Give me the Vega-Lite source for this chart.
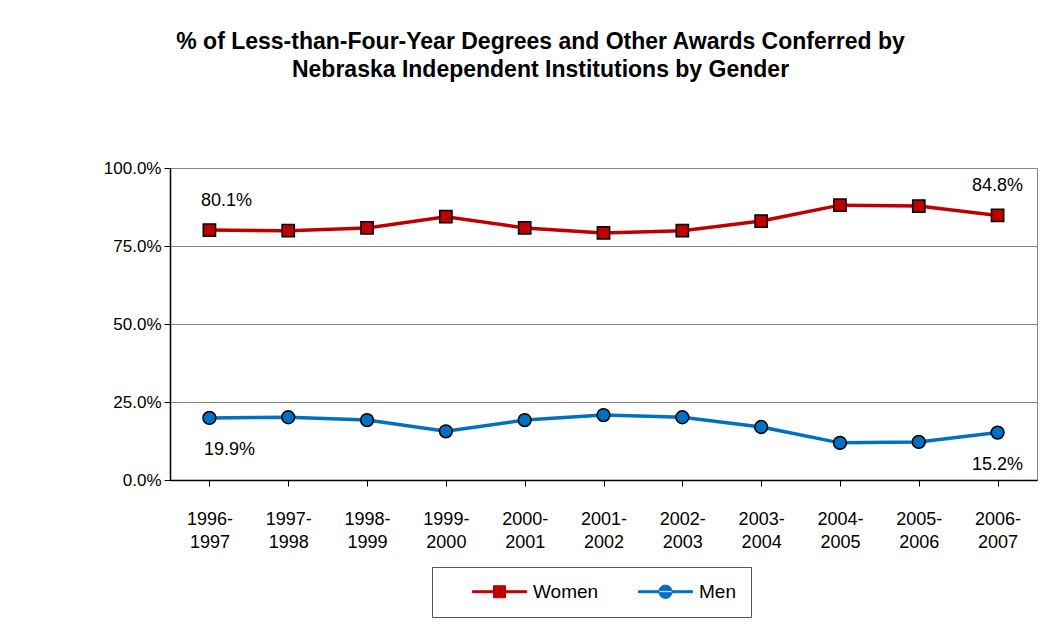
{
  "$schema": "https://vega.github.io/schema/vega-lite/v6.json",
  "width": 867,
  "height": 312,
  "autosize": {"type": "none"},
  "padding": {"left": 170, "top": 168, "right": 23, "bottom": 147},
  "background": "white",
  "config": {
    "font": "Liberation Sans",
    "view": {"stroke": "#868686", "strokeWidth": 1}
  },
  "title": {
    "text": ["% of Less-than-Four-Year Degrees and Other Awards Conferred by", "Nebraska Independent Institutions by Gender"],
    "font": "Liberation Sans",
    "fontWeight": "bold",
    "fontSize": 23,
    "lineHeight": 28,
    "anchor": "middle",
    "dx": -63,
    "offset": 77,
    "color": "black"
  },
  "data": {
    "values": [
      {"year": "1996-1997", "series": "Women", "value": 0.801},
      {"year": "1997-1998", "series": "Women", "value": 0.799},
      {"year": "1998-1999", "series": "Women", "value": 0.808},
      {"year": "1999-2000", "series": "Women", "value": 0.844},
      {"year": "2000-2001", "series": "Women", "value": 0.808},
      {"year": "2001-2002", "series": "Women", "value": 0.792},
      {"year": "2002-2003", "series": "Women", "value": 0.799},
      {"year": "2003-2004", "series": "Women", "value": 0.830},
      {"year": "2004-2005", "series": "Women", "value": 0.881},
      {"year": "2005-2006", "series": "Women", "value": 0.878},
      {"year": "2006-2007", "series": "Women", "value": 0.848},
      {"year": "1996-1997", "series": "Men", "value": 0.199},
      {"year": "1997-1998", "series": "Men", "value": 0.201},
      {"year": "1998-1999", "series": "Men", "value": 0.192},
      {"year": "1999-2000", "series": "Men", "value": 0.156},
      {"year": "2000-2001", "series": "Men", "value": 0.192},
      {"year": "2001-2002", "series": "Men", "value": 0.208},
      {"year": "2002-2003", "series": "Men", "value": 0.201},
      {"year": "2003-2004", "series": "Men", "value": 0.170},
      {"year": "2004-2005", "series": "Men", "value": 0.119},
      {"year": "2005-2006", "series": "Men", "value": 0.122},
      {"year": "2006-2007", "series": "Men", "value": 0.152}
    ]
  },
  "encoding": {
    "x": {
      "field": "year",
      "type": "nominal",
      "sort": null,
      "scale": {"paddingInner": 0, "paddingOuter": 0},
      "axis": {
        "title": null,
        "labelAngle": 0,
        "labelExpr": "[slice(datum.value, 0, 5), slice(datum.value, 5)]",
        "labelFont": "Liberation Sans",
        "labelFontSize": 18,
        "labelColor": "black",
        "labelLineHeight": 23,
        "labelPadding": 24,
        "bandPosition": 0,
        "tickSize": 6,
        "tickColor": "black",
        "domainColor": "black",
        "domainWidth": 1.5,
        "grid": false
      }
    },
    "y": {
      "field": "value",
      "type": "quantitative",
      "scale": {"domain": [0, 1], "nice": false},
      "axis": {
        "title": null,
        "values": [0, 0.25, 0.5, 0.75, 1],
        "format": ".1%",
        "labelFont": "Liberation Sans",
        "labelFontSize": 17,
        "labelColor": "black",
        "labelPadding": 3,
        "tickSize": 6,
        "tickColor": "black",
        "domainColor": "black",
        "domainWidth": 1.5,
        "grid": true,
        "gridColor": "#868686",
        "gridWidth": 1
      }
    }
  },
  "layer": [
    {
      "mark": {"type": "line", "strokeWidth": 3.5},
      "encoding": {
        "color": {
          "field": "series",
          "type": "nominal",
          "scale": {"domain": ["Women", "Men"], "range": ["#C00000", "#0070C0"]},
          "legend": {
            "title": null,
            "orient": "none",
            "legendX": 262,
            "legendY": 399,
            "direction": "horizontal",
            "padding": 15,
            "strokeColor": "#555555",
            "fillColor": "white",
            "symbolSize": 196,
            "symbolOffset": 43,
            "labelOffset": 24,
            "columnPadding": 14,
            "labelFont": "Liberation Sans",
            "labelFontSize": 19,
            "labelColor": "black",
            "labelExpr": "datum.label == 'Men' ? 'Men\u00a0\u00a0\u00a0\u00a0' : datum.label",
            "encode": {
              "symbols": {
                "update": {
                  "shape": {"signal": "datum.value == 'Women' ? 'M-3.86,-0.14 H3.86 V0.14 H-3.86 Z M-0.86,-0.86 H0.86 V0.86 H-0.86 Z' : 'M-3.86,-0.14 H3.86 V0.14 H-3.86 Z M-0.95,0 A0.95,0.95 0 1,0 0.95,0 A0.95,0.95 0 1,0 -0.95,0 Z'"},
                  "size": {"value": 196},
                  "fill": {"signal": "datum.value == 'Women' ? '#C00000' : '#0070C0'"},
                  "stroke": {"signal": "datum.value == 'Women' ? '#C00000' : '#0070C0'"},
                  "strokeWidth": {"value": 1},
                  "opacity": {"value": 1}
                }
              }
            }
          }
        }
      }
    },
    {
      "transform": [{"filter": "datum.series == 'Women'"}],
      "mark": {"type": "point", "shape": "square", "filled": true, "opacity": 1, "fill": "#C00000", "stroke": "black", "strokeWidth": 1.5, "size": 150}
    },
    {
      "transform": [{"filter": "datum.series == 'Men'"}],
      "mark": {"type": "point", "shape": "circle", "filled": true, "opacity": 1, "fill": "#0070C0", "stroke": "black", "strokeWidth": 1.5, "size": 165}
    },
    {
      "transform": [{"filter": "datum.series == 'Women' && datum.year == '1996-1997'"}],
      "mark": {"type": "text", "dx": 17, "dy": -29, "fontSize": 18, "font": "Liberation Sans", "color": "black"},
      "encoding": {"text": {"field": "value", "type": "quantitative", "format": ".1%"}}
    },
    {
      "transform": [{"filter": "datum.series == 'Women' && datum.year == '2006-2007'"}],
      "mark": {"type": "text", "dx": 0, "dy": -29, "fontSize": 18, "font": "Liberation Sans", "color": "black"},
      "encoding": {"text": {"field": "value", "type": "quantitative", "format": ".1%"}}
    },
    {
      "transform": [{"filter": "datum.series == 'Men' && datum.year == '1996-1997'"}],
      "mark": {"type": "text", "dx": 20, "dy": 32, "fontSize": 18, "font": "Liberation Sans", "color": "black"},
      "encoding": {"text": {"field": "value", "type": "quantitative", "format": ".1%"}}
    },
    {
      "transform": [{"filter": "datum.series == 'Men' && datum.year == '2006-2007'"}],
      "mark": {"type": "text", "dx": 0, "dy": 32, "fontSize": 18, "font": "Liberation Sans", "color": "black"},
      "encoding": {"text": {"field": "value", "type": "quantitative", "format": ".1%"}}
    }
  ]
}
